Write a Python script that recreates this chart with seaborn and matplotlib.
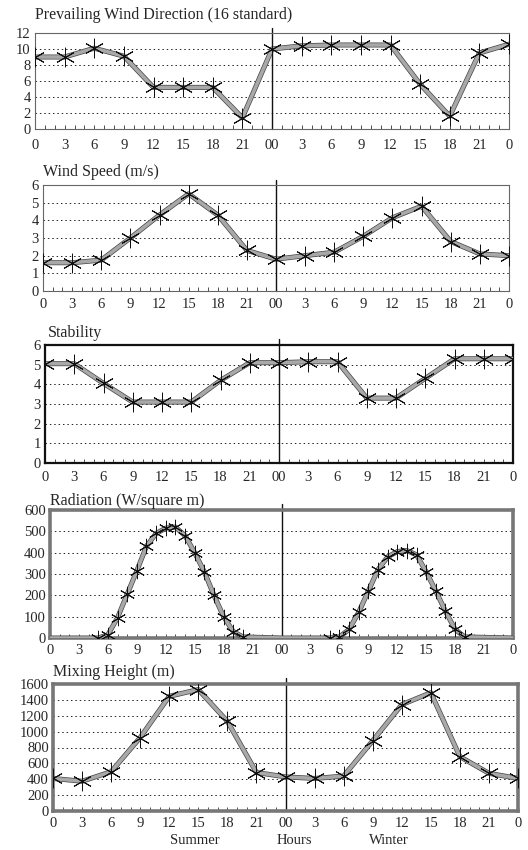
import numpy as np
import pandas as pd
import matplotlib
matplotlib.use("Agg")
import matplotlib.pyplot as plt
import matplotlib.patheffects as pe
import seaborn as sns

sns.set_style("white")
plt.rcParams['font.family'] = ['Liberation Serif', 'DejaVu Serif']

# 3-hourly series: summer 0..24 then winter 24..48
hours = [0, 3, 6, 9, 12, 15, 18, 21, 24, 27, 30, 33, 36, 39, 42, 45, 48]
wind_dir = [9.0, 9.0, 10.1, 9.1, 5.2, 5.2, 5.2, 1.4, 10.0, 10.4, 10.5, 10.5, 10.5, 5.6, 1.6, 9.5, 10.6]
wind_speed = [1.6, 1.6, 1.75, 3.0, 4.3, 5.5, 4.3, 2.3, 1.8, 2.0, 2.2, 3.1, 4.15, 4.8, 2.8, 2.1, 2.0]
stability = [5.05, 5.05, 4.05, 3.1, 3.1, 3.1, 4.2, 5.1, 5.1, 5.15, 5.15, 3.3, 3.3, 4.3, 5.3, 5.3, 5.3]
mixing = [410, 375, 495, 925, 1445, 1530, 1130, 485, 430, 410, 440, 885, 1340, 1490, 685, 475, 410]

# hourly radiation (only daylight hours listed, zeros around them)
rad_hours = [0, 5, 6, 7, 8, 9, 10, 11, 12, 13, 14, 15, 16, 17, 18, 19, 20, 24,
             29, 30, 31, 32, 33, 34, 35, 36, 37, 38, 39, 40, 41, 42, 43, 48]
radiation = [0, 0, 15, 95, 205, 315, 430, 490, 515, 520, 480, 400, 310, 200, 100, 30, 5, 0,
             0, 5, 40, 120, 220, 320, 380, 405, 410, 390, 310, 220, 125, 40, 5, 0]

xtick_pos = list(range(0, 49, 3))
xtick_labels = ['0', '3', '6', '9', '12', '15', '18', '21', '00',
                '3', '6', '9', '12', '15', '18', '21', '0']

titles = ['Prevailing Wind Direction (16 standard)', 'Wind Speed (m/s)', 'Stability',
          'Radiation (W/square m)', 'Mixing Height (m)']

W, H = 528, 850
fig = plt.figure(figsize=(W / 100, H / 100), dpi=100)

# pixel boxes: left, right, top, bottom ; title x, y ; x label pad
boxes = [(35, 509, 33, 129, 35, 15, 7),
         (43, 509, 185, 291, 43, 172, 5),
         (45, 513, 345, 463, 48, 333, 6),
         (50, 513, 510, 638, 50, 501, 4),
         (53, 518, 684, 811, 53, 672, 4)]

panels = [
    (hours, wind_dir, 12, 2, None),
    (hours, wind_speed, 6, 1, None),
    (hours, stability, 6, 1, None),
    (rad_hours, radiation, 600, 100, 'rad'),
    (hours, mixing, 1600, 200, None),
]
spine_style = [('#666666', 0.8), ('#666666', 0.8), ('#111111', 1.6), ('#777777', 2.6), ('#777777', 2.6)]

for i, ((xs, ys, ymax, ystep, kind), box) in enumerate(zip(panels, boxes)):
    l, r, t, b, tx, ty, xpad = box
    ax = fig.add_axes([l / W, 1 - b / H, (r - l) / W, (b - t) / H])
    df = pd.DataFrame({'hour': xs, 'value': ys})

    sns.lineplot(data=df, x='hour', y='value', ax=ax, color='#a8a8a8', lw=2.6,
                 path_effects=[pe.Stroke(linewidth=3.6, foreground='#444444'), pe.Normal()],
                 zorder=3)
    if kind == 'rad':
        mk = df[(df.hour % 24 != 0)]
        msize = 11
    else:
        mk = df
        msize = 14
    sns.lineplot(data=mk, x='hour', y='value', ax=ax, linestyle='', marker=(6, 2, 0),
                 markersize=msize, markeredgecolor='#111111', markeredgewidth=0.7, color='#111111',
                 zorder=4)

    ax.set_xlim(0, 48)
    ax.set_ylim(0, ymax)
    yt = np.arange(0, ymax + ystep / 2, ystep)
    ax.set_yticks(yt)
    ax.set_yticklabels([str(int(v)) for v in yt], fontsize=10.5)
    for v in yt[1:-1]:
        ax.axhline(v, color='#222222', lw=0.7, ls=(0, (1.5, 3)), zorder=1)
    ax.set_xticks(xtick_pos)
    ax.set_xticklabels(xtick_labels, fontsize=10.5)
    ax.set_xticks(range(0, 49), minor=True)
    ax.tick_params(axis='x', which='both', direction='in', length=3, width=0.6,
                   color='#333333', bottom=True, pad=xpad)
    ax.tick_params(axis='y', length=0, pad=3)
    ax.set_xlabel('')
    ax.set_ylabel('')
    ax.axvline(24, ymin=0, ymax=1.05, color='#111111', lw=1.0, clip_on=False, zorder=2)
    c, w = spine_style[i]
    for s in ax.spines.values():
        s.set_color(c)
        s.set_linewidth(w)
    fig.text(tx / W, 1 - ty / H, titles[i], fontsize=11.5, ha='left', va='center')

fig.text(195 / W, 1 - 841 / H, 'Summer', fontsize=10.5, ha='center', va='center')
fig.text(294 / W, 1 - 841 / H, 'Hours', fontsize=10.5, ha='center', va='center')
fig.text(389 / W, 1 - 841 / H, 'Winter', fontsize=10.5, ha='center', va='center')

fig.savefig('out.png', dpi=100)
